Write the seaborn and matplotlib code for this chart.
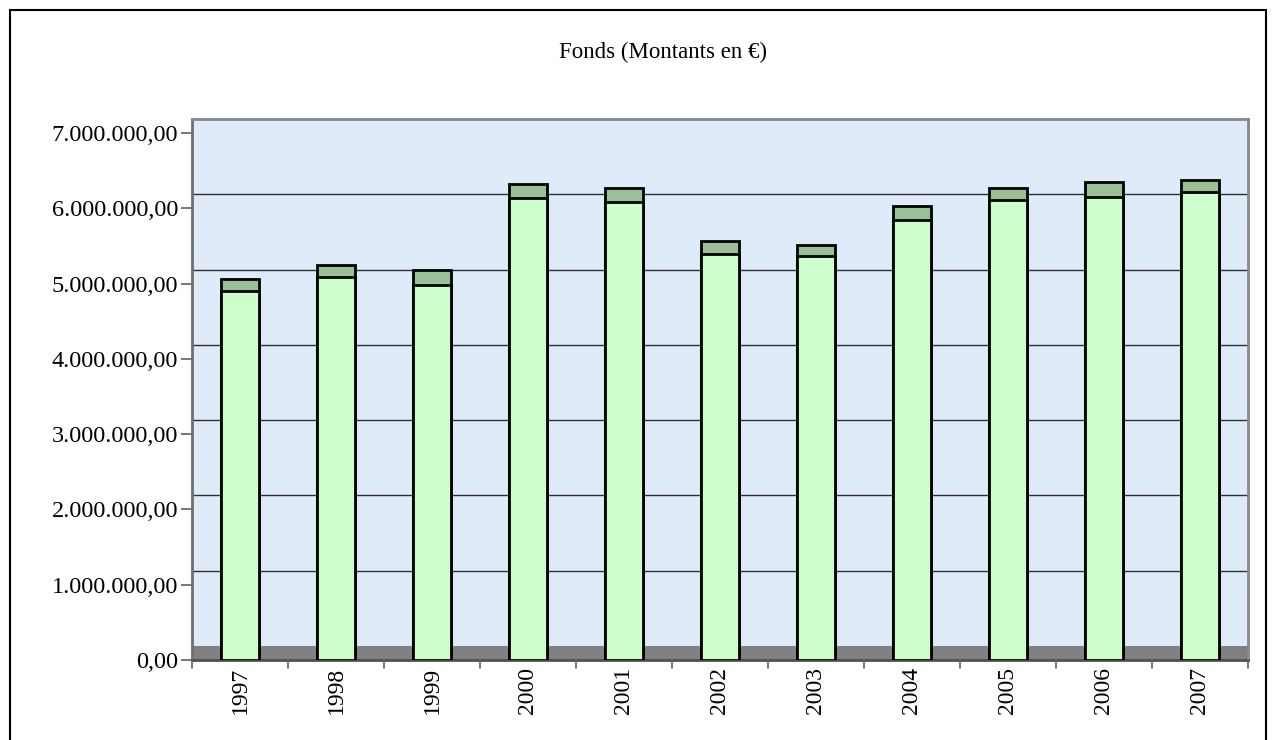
import matplotlib
matplotlib.use("Agg")
import matplotlib.pyplot as plt
import seaborn as sns
import pandas as pd
from matplotlib.ticker import FuncFormatter, FixedLocator
from matplotlib.patches import Rectangle

years = ["1997", "1998", "1999", "2000", "2001", "2002", "2003", "2004", "2005", "2006", "2007"]
base_values = [4.902e6, 5.084e6, 4.987e6, 6.133e6, 6.080e6, 5.390e6, 5.367e6, 5.841e6, 6.110e6, 6.155e6, 6.213e6]
top_values = [0.156e6, 0.169e6, 0.190e6, 0.190e6, 0.195e6, 0.182e6, 0.151e6, 0.190e6, 0.160e6, 0.200e6, 0.168e6]
y_ticks = [0, 1e6, 2e6, 3e6, 4e6, 5e6, 6e6, 7e6]
title = "Fonds (Montants en €)"

totals = [b + t for b, t in zip(base_values, top_values)]
df = pd.DataFrame({"year": years, "base": base_values, "total": totals})

sns.set_style("white")
plt.rcParams["font.family"] = ["Liberation Serif", "DejaVu Serif"]
plt.rcParams["text.color"] = "black"
plt.rcParams["xtick.labelcolor"] = "black"
plt.rcParams["ytick.labelcolor"] = "black"

fig = plt.figure(figsize=(12.76, 7.4), dpi=100)
ax = fig.add_axes([192 / 1276, 80 / 740, (1248 - 192) / 1276, (660 - 119) / 740])

offset = 0.186e6
ax.set_facecolor("#e0ebf9")
ax.axhspan(0, offset, color="#808080", zorder=0.5, lw=0)
for k in range(1, 7):
    ax.axhline(k * 1e6 + offset, color="#303030", lw=1.0, zorder=0.6)

sns.barplot(data=df, x="year", y="total", color="#9bbf96", edgecolor="black",
            linewidth=2.0, width=0.40, saturation=1, ax=ax, zorder=2)
sns.barplot(data=df, x="year", y="base", color="#ccffcc", edgecolor="black",
            linewidth=2.0, width=0.40, saturation=1, ax=ax, zorder=3)

ax.set_xlim(-0.5, len(years) - 0.5)
ax.set_ylim(0, 7e6 + offset)
ax.set_xlabel("")
ax.set_ylabel("")

ax.yaxis.set_major_locator(FixedLocator(y_ticks))
ax.yaxis.set_major_formatter(FuncFormatter(
    lambda v, p: f"{v:,.2f}".replace(",", "X").replace(".", ",").replace("X", ".")))
ax.tick_params(axis="y", length=8, width=1.2, color="#606060", labelsize=17.5, pad=2, left=True)

ax.set_xticks(range(len(years)))
ax.set_xticklabels(years, rotation=90, fontsize=17)
ax.tick_params(axis="x", length=0, pad=5)
for b in range(len(years) + 1):
    ax.plot([b - 0.5, b - 0.5], [0, -0.11e6], color="#606060", lw=1.2,
            clip_on=False, zorder=5)

for s in ["top", "right"]:
    ax.spines[s].set_color("#888888")
    ax.spines[s].set_linewidth(2)
ax.spines["left"].set_color("#707070")
ax.spines["left"].set_linewidth(2)
ax.spines["bottom"].set_color("#505050")
ax.spines["bottom"].set_linewidth(2)

fig.text(663 / 1276, 1 - 52 / 740, title, ha="center", va="center", fontsize=16.5)

fig.patches.append(Rectangle((10 / 1276, -0.05), (1266 - 10) / 1276, (740 - 10) / 740 + 0.05,
                             transform=fig.transFigure, fill=False, edgecolor="black", lw=1.5))

fig.savefig("out.png", dpi=100)
